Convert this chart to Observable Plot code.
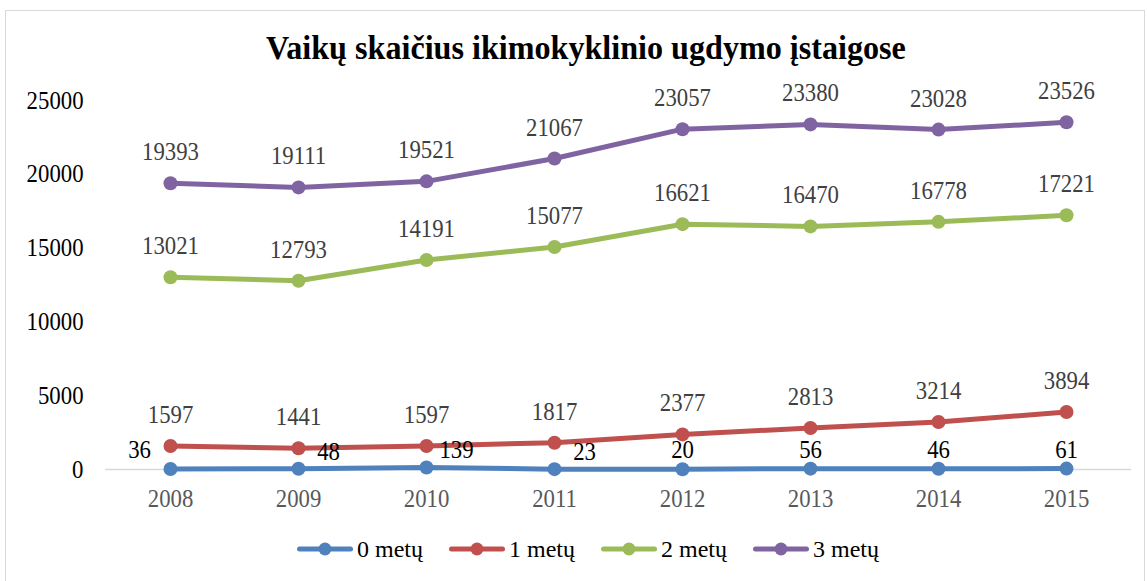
<!DOCTYPE html>
<html>
<head>
<meta charset="utf-8">
<script src="https://cdn.jsdelivr.net/npm/d3@7"></script>
<script src="https://cdn.jsdelivr.net/npm/@observablehq/plot@0.6"></script>
<style>
  html, body { margin: 0; padding: 0; background: #fff; }
  body { width: 1147px; height: 581px; position: relative; overflow: hidden; font-family: 'Liberation Serif', 'DejaVu Serif', serif; }
  #frame { position: absolute; left: 5px; top: 10px; width: 1140px; height: 580px; border: 1px solid #d9d9d9; box-sizing: border-box; }
  #title { position: absolute; left: 266px; top: 31px; white-space: nowrap; font-family: 'Liberation Serif', serif; font-size: 34px; line-height: 34px; font-weight: bold; color: #000; transform: scaleX(0.945); transform-origin: left center; }
  #chart { position: absolute; left: 0; top: 0; }
  #chart svg text { font-family: 'Liberation Serif', serif; }
  #legend { position: absolute; left: 297px; top: 537px; display: flex; gap: 26px; font-family: 'Liberation Serif', serif; font-size: 24px; line-height: 24px; color: #000; }
  .item { display: flex; align-items: center; white-space: nowrap; }
  .item svg { margin-right: 4px; display: block; }
</style>
</head>
<body>
<div id="frame"></div>
<div id="chart"></div>
<div id="title">Vaikų skaičius ikimokyklinio ugdymo įstaigose</div>
<div id="legend"></div>
<script>
const years = ["2008","2009","2010","2011","2012","2013","2014","2015"];
const seriesNames = ["0 metų","1 metų","2 metų","3 metų"];
const colors = ["#4f81bd","#c0504d","#9bbb59","#8064a2"];
const v0 = [36, 48, 139, 23, 20, 56, 46, 61];
const v1 = [1597, 1441, 1597, 1817, 2377, 2813, 3214, 3894];
const v2 = [13021, 12793, 14191, 15077, 16621, 16470, 16778, 17221];
const v3 = [19393, 19111, 19521, 21067, 23057, 23380, 23028, 23526];
const yTicks = [0, 5000, 10000, 15000, 20000, 25000];
// label side for the "0 metų" series (as placed in the original)
const zeroLabelSide = ["left","right","right","right","top","top","top","top"];

const allValues = [v0, v1, v2, v3];
const data = [];
allValues.forEach((vals, s) => vals.forEach((v, i) => data.push({year: years[i], value: v, series: seriesNames[s], si: s, i})));

const upper = data.filter(d => d.si > 0);
const zero = data.filter(d => d.si === 0);
const zl = zero.filter((d) => zeroLabelSide[d.i] === "left");
const zr = zero.filter((d) => zeroLabelSide[d.i] === "right");
const zt = zero.filter((d) => zeroLabelSide[d.i] === "top");

const font = "'Liberation Serif', serif";
const fs = 25;
const chart = Plot.plot({
  width: 1147,
  height: 500,
  marginLeft: 105,
  marginRight: 16,
  marginTop: 100,
  marginBottom: 31,
  style: {fontFamily: font, fontSize: fs + "px", background: "transparent", overflow: "visible"},
  x: {type: "point", domain: years, padding: 0.5, label: null},
  y: {domain: [0, 25000], label: null},
  color: {domain: seriesNames, range: colors},
  marks: [
    Plot.ruleY([0], {stroke: "#d9d9d9", strokeWidth: 1.3}),
    Plot.axisX({tickSize: 0, tickPadding: 20, fill: "#595959", fontSize: fs, fontFamily: font}),
    Plot.axisY({ticks: yTicks, tickSize: 0, tickPadding: 22, tickFormat: d => String(d), fill: "#000", fontSize: fs, fontFamily: font}),
    Plot.line(data, {x: "year", y: "value", z: "series", stroke: "series", strokeWidth: 5, strokeLinecap: "round", strokeLinejoin: "round"}),
    Plot.dot(data, {x: "year", y: "value", fill: "series", r: 7}),
    Plot.text(upper, {x: "year", y: "value", text: d => String(d.value), dy: -31, fill: "#404040", fontSize: fs, fontFamily: font}),
    Plot.text(zl, {x: "year", y: "value", text: d => String(d.value), dx: -31, dy: -19, fill: "#000", fontSize: fs, fontFamily: font}),
    Plot.text(zr, {x: "year", y: "value", text: d => String(d.value), dx: 30, dy: -17, fill: "#000", fontSize: fs, fontFamily: font}),
    Plot.text(zt, {x: "year", y: "value", text: d => String(d.value), dy: -19, fill: "#000", fontSize: fs, fontFamily: font})
  ]
});
document.getElementById("chart").appendChild(chart);
// The original's text is slightly condensed: squeeze each label's glyphs (anchor kept).
chart.querySelectorAll("text").forEach(t => {
  const L = t.getComputedTextLength();
  if (L > 0) {
    t.setAttribute("textLength", (L * 0.91).toFixed(2));
    t.setAttribute("lengthAdjust", "spacingAndGlyphs");
  }
});

const legend = document.getElementById("legend");
seriesNames.forEach((name, k) => {
  const item = document.createElement("div");
  item.className = "item";
  const ns = "http://www.w3.org/2000/svg";
  const svg = document.createElementNS(ns, "svg");
  svg.setAttribute("width", 56); svg.setAttribute("height", 20);
  const ln = document.createElementNS(ns, "line");
  ln.setAttribute("x1", 2.5); ln.setAttribute("x2", 53.5); ln.setAttribute("y1", 10); ln.setAttribute("y2", 10);
  ln.setAttribute("stroke", colors[k]); ln.setAttribute("stroke-width", 5); ln.setAttribute("stroke-linecap", "round");
  const c = document.createElementNS(ns, "circle");
  c.setAttribute("cx", 28); c.setAttribute("cy", 10); c.setAttribute("r", 6.5); c.setAttribute("fill", colors[k]);
  svg.appendChild(ln); svg.appendChild(c);
  const t = document.createElement("span"); t.textContent = name;
  item.appendChild(svg); item.appendChild(t);
  legend.appendChild(item);
});
</script>
</body>
</html>
